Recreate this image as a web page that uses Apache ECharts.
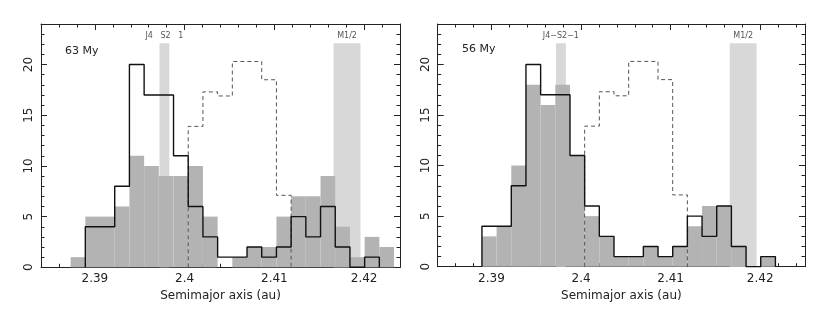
<!DOCTYPE html>
<html>
<head>
<meta charset="utf-8">
<script src="https://cdn.jsdelivr.net/npm/echarts@6/dist/echarts.min.js"></script>
<style>
html,body{margin:0;padding:0;background:#fff;}
#chart{width:830px;height:316px;}
</style>
</head>
<body>
<div id="chart"></div>
<script>
// ---- data ----
const binStart = 2.3873;
const binWidth = 0.001638;
const panelTitles = ['63 My', '56 My'];
const fill63 = [1, 5, 5, 6, 11, 10, 9, 9, 10, 5, 0, 1, 2, 2, 5, 7, 7, 9, 4, 1, 3, 2];
const fill56 = [0, 3, 4, 10, 18, 16, 18, 11, 5, 3, 1, 1, 2, 1, 2, 4, 6, 6, 2, 0, 1, 0];
const outlineCounts = [0, 4, 4, 8, 20, 17, 17, 11, 6, 3, 1, 1, 2, 1, 2, 5, 3, 6, 2, 0, 1, 0];
const dashedStartBin = 8;
const dashedCounts = [13.9, 17.3, 16.9, 20.3, 20.3, 18.5, 7.1];
const bandLo = [2.3972, 2.4166];
const bandHi = [2.3983, 2.4196];
const bandTop = 22.1;
const bandLabelsLeft = ['J4   S2   1', 'M1/2'];
const bandLabelsRight = ['J4\u2212S2\u22121', 'M1/2'];
const xMajor = [2.39, 2.40, 2.41, 2.42];
const yMajor = [0, 5, 10, 15, 20];
const xName = 'Semimajor axis (au)';

// ---- helpers ----
const edge = k => binStart + k * binWidth;
function barData(counts) {
  return counts.map((v, k) => [edge(k), edge(k + 1), v]);
}
function outlinePoints(startBin, counts) {
  let s = 0, e = counts.length - 1;
  while (s < counts.length && counts[s] === 0) s++;
  while (e > s && counts[e] === 0) e--;
  const pts = [[edge(startBin + s), 0]];
  for (let k = s; k <= e; k++) {
    pts.push([edge(startBin + k), counts[k]]);
    pts.push([edge(startBin + k + 1), counts[k]]);
  }
  pts.push([edge(startBin + e + 1), 0]);
  return pts;
}
function minorTicks(lo, hi, step, majors) {
  const out = [];
  for (let v = lo; v <= hi + 1e-9; v += step) {
    const r = Math.round(v * 1000) / 1000;
    if (!majors.some(m => Math.abs(m - r) < 1e-9)) out.push(r);
  }
  return out;
}
const yMinor = [];
for (let i = 1; i <= 24; i++) if (i % 5 !== 0) yMinor.push(i);

const axisColor = '#222';
const textColor = '#222';

const chart = echarts.init(document.getElementById('chart'), null, {renderer: 'canvas'});

const grids = [
  {left: 41, top: 24, width: 359, height: 243.3},
  {left: 437.7, top: 24, width: 367.3, height: 242.7}
];
const xRanges = [[2.384, 2.424], [2.384, 2.425]];

const xAxes = [], yAxes = [], series = [];
[0, 1].forEach(g => {
  const [xmin, xmax] = xRanges[g];
  const xMinor = minorTicks(2.384, xmax, 0.002, xMajor);
  const base = {type: 'value', gridIndex: g, min: xmin, max: xmax, splitLine: {show: false}};
  // bottom major with labels
  xAxes.push(Object.assign({}, base, {
    position: 'bottom',
    axisLine: {show: true, onZero: false, lineStyle: {color: axisColor, width: 1}},
    axisTick: {show: true, inside: true, length: 6, customValues: xMajor, lineStyle: {color: axisColor}},
    axisLabel: {show: true, customValues: xMajor, margin: 6, color: textColor, fontSize: 12,
      fontFamily: 'DejaVu Sans', formatter: v => String(Math.round(v * 100) / 100)},
    name: xName, nameLocation: 'middle', nameGap: 21,
    nameTextStyle: {color: textColor, fontSize: 12, fontFamily: 'DejaVu Sans'}
  }));
  // bottom minor
  xAxes.push(Object.assign({}, base, {
    position: 'bottom',
    axisLine: {show: false, onZero: false},
    axisTick: {show: true, inside: true, length: 3.5, customValues: xMinor, lineStyle: {color: axisColor}},
    axisLabel: {show: false}
  }));
  // top major
  xAxes.push(Object.assign({}, base, {
    position: 'top',
    axisLine: {show: true, onZero: false, lineStyle: {color: axisColor, width: 1}},
    axisTick: {show: true, inside: true, length: 6, customValues: xMajor, lineStyle: {color: axisColor}},
    axisLabel: {show: false}
  }));
  // top minor
  xAxes.push(Object.assign({}, base, {
    position: 'top',
    axisLine: {show: false, onZero: false},
    axisTick: {show: true, inside: true, length: 3.5, customValues: xMinor, lineStyle: {color: axisColor}},
    axisLabel: {show: false}
  }));

  const ybase = {type: 'value', gridIndex: g, min: 0, max: 24, splitLine: {show: false}};
  yAxes.push(Object.assign({}, ybase, {
    position: 'left',
    axisLine: {show: true, onZero: false, lineStyle: {color: axisColor, width: 1}},
    axisTick: {show: true, inside: true, length: 6, customValues: yMajor, lineStyle: {color: axisColor}},
    axisLabel: {show: true, customValues: yMajor, rotate: 90, margin: 6, color: textColor, fontSize: 12,
      fontFamily: 'DejaVu Sans'}
  }));
  yAxes.push(Object.assign({}, ybase, {
    position: 'left',
    axisLine: {show: false, onZero: false},
    axisTick: {show: true, inside: true, length: 3.5, customValues: yMinor, lineStyle: {color: axisColor}},
    axisLabel: {show: false}
  }));
  yAxes.push(Object.assign({}, ybase, {
    position: 'right',
    axisLine: {show: true, onZero: false, lineStyle: {color: axisColor, width: 1}},
    axisTick: {show: true, inside: true, length: 6, customValues: yMajor, lineStyle: {color: axisColor}},
    axisLabel: {show: false}
  }));
  yAxes.push(Object.assign({}, ybase, {
    position: 'right',
    axisLine: {show: false, onZero: false},
    axisTick: {show: true, inside: true, length: 3.5, customValues: yMinor, lineStyle: {color: axisColor}},
    axisLabel: {show: false}
  }));

  const xi = g * 4, yi = g * 4;
  const labels = g === 0 ? bandLabelsLeft : bandLabelsRight;
  // resonance bands
  series.push({
    type: 'custom', xAxisIndex: xi, yAxisIndex: yi, z: 1, silent: true,
    data: bandLo.map((lo, i) => [lo, bandHi[i], bandTop, labels[i]]),
    renderItem: (params, api) => {
      const p1 = api.coord([api.value(0), api.value(2)]);
      const p2 = api.coord([api.value(1), 0]);
      const lab = labels[params.dataIndex];
      return {type: 'group', children: [
        {type: 'rect', shape: {x: p1[0], y: p1[1], width: p2[0] - p1[0], height: p2[1] - p1[1]},
          style: {fill: '#d8d8d8'}},
        {type: 'text', style: {text: lab, x: (p1[0] + p2[0]) / 2, y: p1[1] - 7.5,
          align: 'center', verticalAlign: 'middle', fill: '#555', fontSize: 8, fontFamily: 'DejaVu Sans'}}
      ]};
    }
  });
  // filled histogram
  series.push({
    type: 'custom', xAxisIndex: xi, yAxisIndex: yi, z: 2, silent: true,
    data: barData(g === 0 ? fill63 : fill56),
    renderItem: (params, api) => {
      const v = api.value(2);
      if (!v) return null;
      const p1 = api.coord([api.value(0), v]);
      const p2 = api.coord([api.value(1), 0]);
      return {type: 'rect', shape: {x: p1[0], y: p1[1], width: p2[0] - p1[0], height: p2[1] - p1[1]},
        style: {fill: '#b3b3b3'}};
    }
  });
  // dashed histogram
  series.push({
    type: 'line', xAxisIndex: xi, yAxisIndex: yi, z: 3, silent: true,
    data: outlinePoints(dashedStartBin, dashedCounts), symbol: 'none',
    lineStyle: {color: '#555', width: 1, type: [4, 3]}
  });
  // outline histogram
  series.push({
    type: 'line', xAxisIndex: xi, yAxisIndex: yi, z: 4, silent: true,
    data: outlinePoints(0, outlineCounts), symbol: 'none',
    lineStyle: {color: '#111', width: 1.4}
  });
});

chart.setOption({
  animation: false,
  backgroundColor: '#fff',
  grid: grids,
  xAxis: xAxes,
  yAxis: yAxes,
  series: series,
  graphic: [
    {type: 'text', left: 65, top: 46, style: {text: panelTitles[0], fill: textColor, fontSize: 11, fontFamily: 'DejaVu Sans'}},
    {type: 'text', left: 462, top: 44, style: {text: panelTitles[1], fill: textColor, fontSize: 11, fontFamily: 'DejaVu Sans'}}
  ]
});
</script>
</body>
</html>
